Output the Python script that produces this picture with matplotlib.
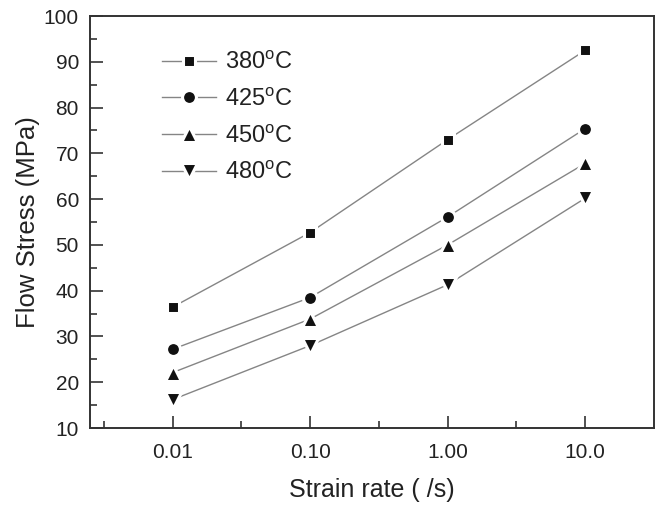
import numpy as np
import matplotlib
matplotlib.use("Agg")
import matplotlib.pyplot as plt
from matplotlib.ticker import FixedLocator

plt.rcParams['font.family'] = ['Liberation Sans', 'DejaVu Sans']
plt.rcParams['mathtext.fontset'] = 'custom'
plt.rcParams['mathtext.rm'] = 'Liberation Sans'
plt.rcParams['mathtext.it'] = 'Liberation Sans'

strain_rates = ["0.01", "0.10", "1.00", "10.0"]
temps = ["380", "425", "450", "480"]
stress_380 = [36.4, 52.7, 73.0, 92.5]
stress_425 = [27.2, 38.5, 56.1, 75.4]
stress_450 = [22.1, 33.8, 50.0, 67.8]
stress_480 = [16.2, 28.0, 41.3, 60.2]
series = [stress_380, stress_425, stress_450, stress_480]
markers = ['s', 'o', '^', 'v']
msizes = [9, 10, 11.5, 11.5]

fig = plt.figure(figsize=(6.58, 5.07), dpi=100)
ax = fig.add_axes([0.1368, 0.1558, 0.857, 0.8126])

xpos = np.arange(1, len(strain_rates) + 1)
for t, vals, m, ms in zip(temps, series, markers, msizes):
    ax.plot(xpos, vals, color='#858585', lw=1.0, marker=m, ms=ms,
            mfc='#111111', mec='white', mew=2.2,
            label=r'%s$^{\mathrm{o}}$C' % t)

ax.set_xlim(0.4, 4.5)
ax.set_ylim(10, 100)
ax.set_xticks(xpos)
ax.set_xticklabels(strain_rates)
ax.xaxis.set_minor_locator(FixedLocator(xpos - 0.5))
ax.set_yticks(np.arange(10, 101, 10))
ax.yaxis.set_minor_locator(FixedLocator(np.arange(15, 100, 10)))

ax.tick_params(which='both', direction='in', colors='#333333', labelcolor='#222222',
               labelsize=15, width=1.2)
ax.tick_params(which='major', length=9, pad=8)
ax.tick_params(axis='x', which='major', pad=11)
ax.tick_params(which='minor', length=5)
ax.tick_params(axis='x', which='both', top=False)
ax.tick_params(axis='y', which='both', right=False)
for s in ax.spines.values():
    s.set_linewidth(1.4)
    s.set_color('#333333')

ax.set_xlabel('Strain rate ( /s)', fontsize=18, color='#222222', labelpad=11)
ax.set_ylabel('Flow Stress (MPa)', fontsize=18.5, color='#222222', labelpad=3)

ax.legend(loc='upper left', bbox_to_anchor=(0.09, 0.965), frameon=False,
          fontsize=17, handlelength=2.3, handletextpad=0.35, labelspacing=0.62,
          labelcolor='#222222')

fig.savefig('out.png', dpi=100)
